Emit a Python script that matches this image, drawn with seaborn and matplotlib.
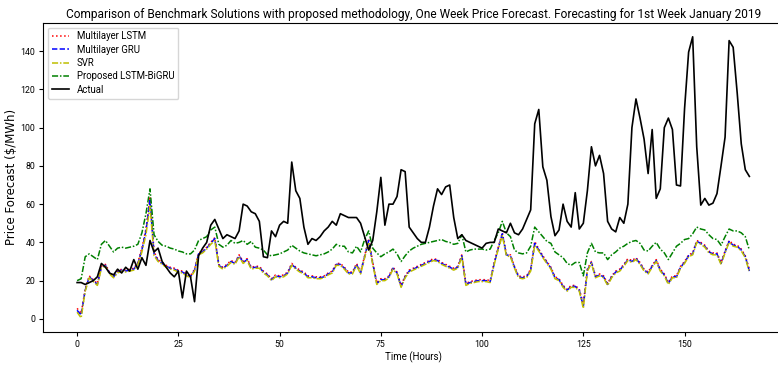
import matplotlib
matplotlib.use("Agg")
import matplotlib.pyplot as plt
import seaborn as sns
import numpy as np

# Hourly prices for the first week of January 2019 ($/MWh)
actual = [19, 19, 18, 19, 20, 22, 29, 27, 24, 23, 26, 24, 27, 25, 31, 26, 32, 28, 41, 35,
          37, 30, 27, 24, 22, 25, 11, 25, 22, 9, 33, 37, 40, 49, 52, 47, 42, 44, 43, 42,
          46, 60, 59, 56, 55, 51, 32.5, 32, 46, 43, 49, 51, 50, 82, 67, 63, 48, 39, 42, 41,
          43, 46, 48, 51, 49, 55, 54, 53, 53, 53, 50, 43, 36, 41, 56, 74, 49, 60, 60, 64,
          78, 77, 48, 45, 42, 40, 40, 48, 59, 68, 65, 69, 70, 53, 42, 44, 41, 40, 39, 38,
          37, 39.5, 40, 40, 47, 46, 45, 50, 45, 44, 47, 52, 57, 102, 109.5, 79.5, 72.5, 53.5, 43.5, 46.5,
          60, 51, 48, 66, 47, 50, 67, 90, 80, 85.5, 76, 51, 47, 45.5, 53, 50, 60, 100, 115, 105,
          94, 76, 99, 63, 68, 100, 105, 99, 70, 69.5, 110, 139.5, 147.5, 90, 59.5, 63, 59.5, 60.5, 65.5, 80,
          95, 145.5, 142, 118, 91.5, 78, 74.5]

proposed = [20, 21, 32.5, 34, 32.5, 31, 39, 41, 38, 35, 37, 37.5, 37, 37.5, 38, 39, 45, 55, 68, 44,
            40.5, 38.5, 38, 37, 36.5, 35.5, 35, 34, 34, 36, 41, 42, 43, 46.5, 48, 39, 37.5, 38.5, 41, 39.5,
            40, 41, 39, 40.5, 37.5, 37, 36, 33.5, 33, 33.5, 34, 35, 36, 38.5, 37, 35.5, 34.5, 34, 33.5, 33,
            33.5, 34, 35, 36.5, 39, 38, 38, 35, 34.5, 38, 35, 41.5, 46, 37, 34.5, 32.5, 34, 35, 36.5, 34,
            30, 33, 35.5, 37, 38, 39, 39.5, 40, 40.5, 41, 41.5, 40.5, 40, 39, 39.5, 44, 35, 36, 36.5, 36.5,
            36.5, 36, 36.5, 41, 45, 51, 45, 43, 36, 34.5, 34, 34.5, 38, 48, 45.5, 43, 40.5, 39.5, 35, 33.5,
            32, 29, 28, 29.5, 29.5, 22.5, 34.5, 39.5, 35, 34.5, 34.5, 31, 33.5, 35, 37, 38, 39.5, 40.5, 41, 39.5,
            36, 35.5, 38, 40, 36.5, 34.5, 31, 34.5, 38, 39.5, 41.5, 42, 44.5, 48, 47, 46.5, 44, 42, 41.5, 38.5,
            43, 47, 46, 46, 45, 43, 36]

gru = [4.5, 2, 15, 22, 20, 18, 27, 28, 24, 22, 24.5, 25.5, 25, 25.5, 26, 29, 36, 46, 62, 34,
       30.5, 29, 27.5, 26.5, 26, 25, 24.5, 23, 22, 25.5, 34, 35, 37, 39.5, 42, 28, 26.5, 28, 30, 29,
       33, 29.5, 31, 26.5, 27, 27, 24.5, 23, 20.5, 22.5, 22, 22.5, 24, 28.5, 26.5, 25, 24, 22, 22, 21.5,
       21.5, 22, 23.5, 24.5, 28.5, 28.5, 26.5, 24, 24, 28.5, 24, 32.5, 41, 29, 18.5, 20.5, 20.5, 22, 26.5, 24,
       17, 22, 25, 26, 27, 28, 29, 30, 31, 30.5, 29, 28, 27, 26, 27, 33, 18, 19, 19.5, 20,
       20, 20, 19.5, 29, 37, 44.5, 33.5, 33, 27, 22, 21.5, 22, 25.5, 39.5, 36, 32.5, 29.5, 26.5, 21.5, 20.5,
       17, 15, 17, 17, 15, 6.5, 25.5, 29.5, 22, 23, 22, 18, 22, 24.5, 25.5, 28, 31, 30, 31.5, 29,
       25.5, 24, 27.5, 30.5, 25.5, 23, 18.5, 22, 22, 27, 29.5, 33, 34, 40.5, 39.5, 38, 35, 34, 34, 29,
       35, 40.5, 38.5, 38, 36, 32.5, 25]

lstm = [5.5, 3, 15.5, 22.5, 20.5, 18.5, 27.5, 28.5, 24.5, 22.5, 25, 26, 25.5, 26, 26.5, 29.5, 37, 47, 64, 35,
        31, 29.5, 28, 27, 26.5, 25.5, 25, 23.5, 22.5, 26, 34.5, 35.5, 37.5, 40, 42.5, 28.5, 27, 28.5, 30.5, 29.5,
        33.5, 30, 31.5, 27, 27.5, 27.5, 25, 23.5, 21, 23, 22.5, 23, 24.5, 29, 27, 25.5, 24.5, 22.5, 22.5, 22,
        22, 22.5, 24, 25, 29, 29, 27, 24.5, 24.5, 29, 24.5, 33, 42, 29.5, 19, 21, 21, 22.5, 27, 24.5,
        17.5, 22.5, 25.5, 26.5, 27.5, 28.5, 29.5, 30.5, 31.5, 31, 29.5, 28.5, 27.5, 26.5, 27.5, 33.5, 18.5, 19.5, 20, 20.5,
        20.5, 20.5, 20, 29.5, 37.5, 45, 34, 33.5, 27.5, 22.5, 22, 22.5, 26, 40.5, 36.5, 33, 30, 27, 22, 21,
        17.5, 15.5, 17.5, 17.5, 15.5, 8, 26, 30, 22.5, 23.5, 22.5, 18.5, 22.5, 25, 26, 28.5, 31.5, 30.5, 32, 29.5,
        26, 24.5, 28, 31, 26, 23.5, 19, 22.5, 22.5, 27.5, 30, 33.5, 34.5, 41, 40, 38.5, 35.5, 34.5, 34.5, 29.5,
        35.5, 41, 39, 38.5, 36.5, 33, 26]

svr = [3.5, 0.5, 14.5, 21.5, 19.5, 17.5, 26.5, 27.5, 23.5, 21.5, 24, 25, 24.5, 25, 25.5, 28.5, 35, 44, 59, 33,
       30, 28.5, 27, 26, 25.5, 24.5, 24, 22.5, 21.5, 25, 33.5, 34.5, 36.5, 39, 41, 27.5, 26, 27.5, 29.5, 28.5,
       32.5, 29, 30.5, 26, 26.5, 26.5, 24, 22.5, 20, 22, 21.5, 22, 23.5, 28, 26, 24.5, 23.5, 21.5, 21.5, 21,
       21, 21.5, 23, 24, 28, 28, 26, 23.5, 23.5, 28, 23.5, 32, 40, 28.5, 18, 20, 20, 21.5, 26, 23.5,
       16.5, 21.5, 24.5, 25.5, 26.5, 27.5, 28.5, 29.5, 30.5, 30, 28.5, 27.5, 26.5, 25.5, 26.5, 32.5, 17.5, 18.5, 19, 19.5,
       19.5, 19.5, 19, 28.5, 36.5, 43.5, 33, 32.5, 26.5, 21.5, 21, 21.5, 25, 38.5, 35.5, 32, 29, 26, 21, 20,
       16.5, 14.5, 16.5, 16.5, 14.5, 5.5, 25, 29, 21.5, 22.5, 21.5, 17.5, 21.5, 24, 25, 27.5, 30.5, 29.5, 31, 28.5,
       25, 23.5, 27, 30, 25, 22.5, 18, 21.5, 21.5, 26.5, 29, 32.5, 33.5, 40, 39, 37.5, 34.5, 33.5, 33.5, 28.5,
       34.5, 40, 38, 37.5, 35.5, 32, 24.5]

labels = ["Multilayer LSTM", "Multilayer GRU", "SVR", "Proposed LSTM-BiGRU", "Actual"]
hours = np.arange(len(actual))

# Narrow-ish face for horizontal text, fallback to DejaVu
plt.rcParams["font.family"] = ["Roboto", "DejaVu Sans"]

fig = plt.figure(figsize=(7.78, 3.66), dpi=100)
ax = fig.add_axes([0.0559, 0.0929, 0.9505, 0.845])

series = [
    (lstm, "red", ":", 1.1),
    (gru, "blue", (0, (3.5, 1.5)), 1.1),
    (svr, "y", (0, (4, 1.2, 1, 1.2)), 1.1),
    (proposed, "green", (0, (4, 1.2, 1, 1.2)), 1.1),
    (actual, "black", "-", 1.2),
]
for (vals, col, ls, lw), lab in zip(series, labels):
    sns.lineplot(x=hours, y=vals, ax=ax, color=col, linestyle=ls, linewidth=lw, label=lab)

ax.set_xticks([0, 25, 50, 75, 100, 125, 150])
ax.set_yticks(np.arange(0, 141, 20))
ax.tick_params(labelsize=6.3, length=3, pad=3)
ax.set_xlabel("Time (Hours)", fontsize=7.0, labelpad=1.5)
ax.set_ylabel("Price Forecast ($/MWh)", fontsize=8.5, family="DejaVu Sans")
ax.yaxis.set_label_coords(-0.034, 0.5)
ax.set_title("Comparison of Benchmark Solutions with proposed methodology, One Week Price Forecast. "
             "Forecasting for 1st Week January 2019", fontsize=8.6, pad=3.5)
ax.legend(loc="upper left", fontsize=6.9, handlelength=1.8, labelspacing=0.35)

fig.savefig("out.png", dpi=100)
